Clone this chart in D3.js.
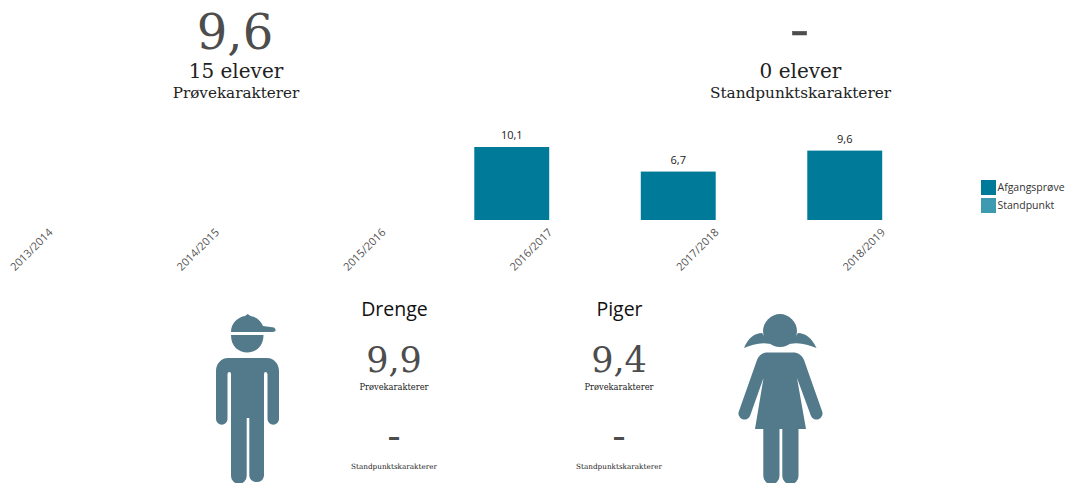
<!DOCTYPE html>
<html>
<head>
<meta charset="utf-8">
<script src="https://cdn.jsdelivr.net/npm/d3@7"></script>
<style>
body { margin: 0; background: #fff; }
svg { display: block; }
.serif { font-family: "DejaVu Serif", serif; }
.sans { font-family: "Open Sans", sans-serif; }
</style>
</head>
<body>
<svg id="chart" width="1066" height="483"></svg>
<script>
// Values
const years = ["2013/2014", "2014/2015", "2015/2016", "2016/2017", "2017/2018", "2018/2019"];
const afgangsprove = [null, null, null, 10.1, 6.7, 9.6];
const legendLabels = ["Afgangsprøve", "Standpunkt"];
const legendColors = ["#007a99", "#3d9ab0"];

const svg = d3.select("#chart");

const x = d3.scaleBand().domain(years).range([-71, 928]).paddingInner(0.55).paddingOuter(0.275);
const y = d3.scaleLinear().domain([0, 10.1]).range([220, 147]);
const fmt = d => String(d).replace(".", ",");

function label(txt, px, py, size, cls, fill) {
    return svg.append("text")
        .attr("class", cls)
        .attr("x", px)
        .attr("y", py)
        .attr("text-anchor", "middle")
        .attr("font-size", size)
        .attr("fill", fill)
        .text(txt);
}

// Top figures
label("9,6", 235, 49, 48, "serif", "#4d4d4d");
label("15 elever", 236, 78, 20, "serif", "#222");
label("Prøvekarakterer", 236, 98, 15.2, "serif", "#222");
label("-", 799.5, 46, 48, "serif", "#4d4d4d")
    .attr("stroke", "#4d4d4d")
    .attr("stroke-width", 0.5)
    .attr("textLength", 19)
    .attr("lengthAdjust", "spacingAndGlyphs");
label("0 elever", 800.5, 78, 20, "serif", "#222");
label("Standpunktskarakterer", 800.5, 98, 15.3, "serif", "#222");

// Bars
const rows = years.map((year, i) => ({year: year, value: afgangsprove[i]})).filter(d => d.value !== null);

svg.selectAll(".bar")
    .data(rows)
    .join("rect")
    .attr("class", "bar")
    .attr("x", d => x(d.year))
    .attr("y", d => y(d.value))
    .attr("width", x.bandwidth())
    .attr("height", d => y(0) - y(d.value))
    .attr("fill", legendColors[0]);

svg.selectAll(".barlabel")
    .data(rows)
    .join("text")
    .attr("class", "barlabel sans")
    .attr("x", d => x(d.year) + x.bandwidth() / 2)
    .attr("y", d => y(d.value) - 8)
    .attr("text-anchor", "middle")
    .attr("font-size", 11)
    .attr("fill", "#222")
    .text(d => fmt(d.value));

// Axis, rotated labels only
const axis = svg.append("g")
    .attr("transform", "translate(0,220)")
    .call(d3.axisBottom(x).tickSize(0));
axis.select(".domain").remove();
axis.selectAll("text")
    .attr("class", "sans")
    .attr("font-family", "Open Sans")
    .attr("font-size", 11)
    .attr("fill", "#555")
    .attr("text-anchor", "end")
    .attr("dx", 0)
    .attr("dy", 0)
    .attr("transform", "translate(39,11) rotate(-45)");

// Legend
const legend = svg.selectAll(".legend")
    .data(legendLabels)
    .join("g")
    .attr("class", "legend")
    .attr("transform", (d, i) => `translate(981,${180 + i * 18})`);
legend.append("rect")
    .attr("width", 15)
    .attr("height", 15)
    .attr("fill", (d, i) => legendColors[i]);
legend.append("text")
    .attr("class", "sans")
    .attr("x", 16.5)
    .attr("y", 11)
    .attr("font-size", 10.5)
    .attr("fill", "#333")
    .text(d => d);

// Boy and girl blocks
label("Drenge", 394.5, 316, 19.5, "sans", "#111");
label("9,9", 394, 372, 35, "serif", "#4d4d4d");
label("Prøvekarakterer", 394, 390, 8.3, "serif", "#222");
label("-", 394, 449, 40, "serif", "#4d4d4d");
label("Standpunktskarakterer", 394, 469, 7.25, "serif", "#222");

label("Piger", 619.5, 316, 19.5, "sans", "#111");
label("9,4", 619, 372, 35, "serif", "#4d4d4d");
label("Prøvekarakterer", 619, 390, 8.3, "serif", "#222");
label("-", 619, 449, 40, "serif", "#4d4d4d");
label("Standpunktskarakterer", 619, 469, 7.25, "serif", "#222");

// Icons
const iconColor = "#527a8a";
const boy = [
    "M231,332 C231,323 238,317 245,316 L247.7,314 L250.5,316 C257,317 261,321 263,326 L274,327.5 Q276,329 275.5,331 Q274,332 272,332 Z",
    "M231,335 H263.5 C263.5,346 256,352.5 247.5,352.5 C238,352.5 231,346 231,335 Z",
    "M228,358 H267 C274,358 279,364 279,371 V419 A5.7,5.7 0 0 1 267.5,419 V374 Q267,372 265.5,372 Q264,372 264,374 V476 A7.5,7.5 0 0 1 249.3,476 V418 H246.7 V476 A7.5,7.5 0 0 1 231,476 V374 Q231,372 229.5,372 Q227.5,372 227.5,374 V419 A5.7,5.7 0 0 1 216,419 V371 C216,364 221,358 228,358 Z"
];
const girl = [
    "M780,314 C789,314 797,322 797,331 C797,340 789,347 780,347 C771,347 763,340 763,331 C763,322 771,314 780,314 Z",
    "M744,348 C748,338 755,333 762,333 L770,344 C760,342 752,345 744,348 Z",
    "M816.5,348 C812,338 805,333 798,333 L790,344 C800,342 808,345 816.5,348 Z",
    "M768,352.5 H793 C798,352.5 802,355 804,360 L822,411 A6,6 0 0 1 811,416 L797,378 L806,429 H798.5 V476 A8,8 0 0 1 782.3,476 V429 H779.5 V476 A8,8 0 0 1 763.3,476 V429 H755 L763.5,378 L750,416 A6,6 0 0 1 739,411 L757,360 C759,355 763,352.5 768,352.5 Z"
];
svg.append("g").selectAll("path")
    .data(boy.concat(girl))
    .join("path")
    .attr("d", d => d)
    .attr("fill", iconColor);
</script>
</body>
</html>
